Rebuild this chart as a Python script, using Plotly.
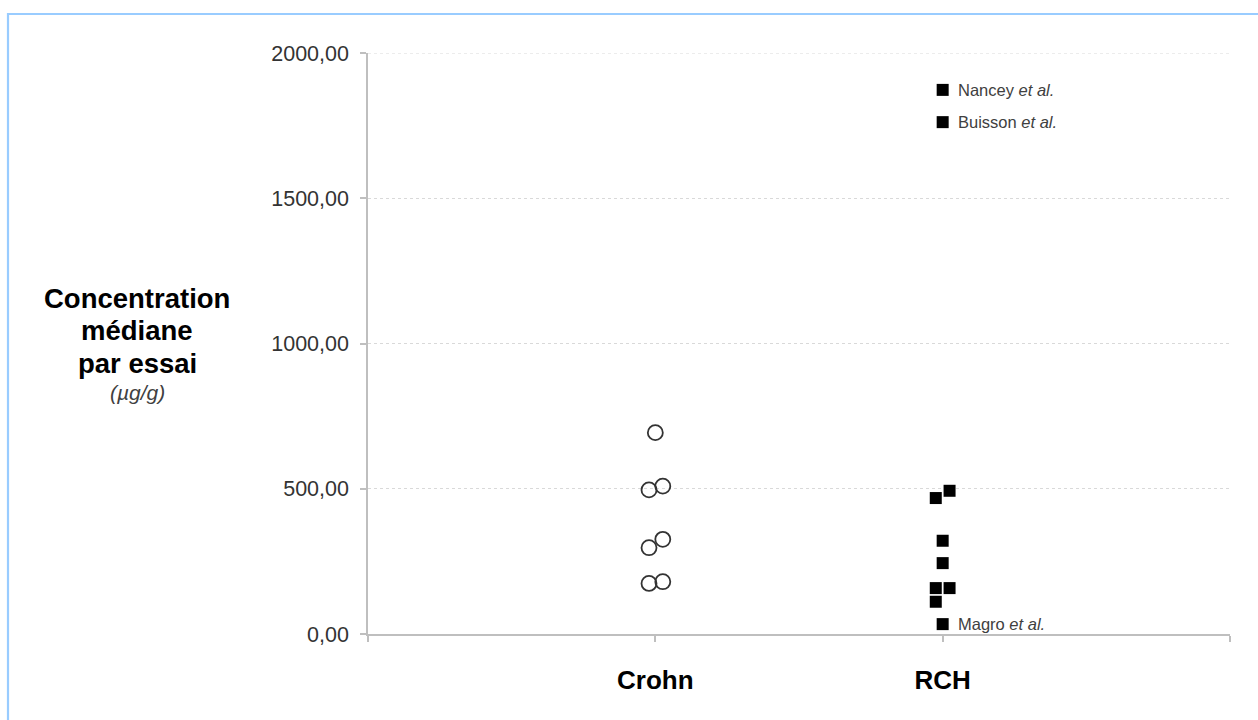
import plotly.graph_objects as go

# ---- data ----
categories = ["Crohn", "RCH"]
crohn_x = [1.0, 0.978, 1.026, 0.978, 1.026, 0.978, 1.026]
crohn_y = [693, 496, 509, 297, 326, 174, 180]
rch_x = [2.0, 2.0, 1.976, 2.024, 2.0, 2.0, 1.976, 2.024, 1.976, 2.0]
rch_y = [1873, 1762, 468, 493, 321, 244, 158, 158, 111, 34]
labelled_names = ["Nancey", "Buisson", "Magro"]
labelled_x = [2.0, 2.0, 2.0]
labelled_y = [1873, 1762, 34]
y_ticks = [0, 500, 1000, 1500, 2000]

FONT = "Arial, Liberation Sans, sans-serif"

fig = go.Figure()
fig.add_trace(go.Scatter(
    x=crohn_x, y=crohn_y, mode="markers",
    marker=dict(symbol="circle-open", size=15, color="#333333", line=dict(width=1.8, color="#333333")),
    showlegend=False, hoverinfo="skip"))
fig.add_trace(go.Scatter(
    x=rch_x, y=rch_y, mode="markers",
    marker=dict(symbol="square", size=12, color="#000000", line=dict(width=0)),
    showlegend=False, hoverinfo="skip"))

for name, xv, yv in zip(labelled_names, labelled_x, labelled_y):
    fig.add_annotation(x=xv, y=yv, xref="x", yref="y", xanchor="left", yanchor="middle",
                       xshift=13, text=f"{name} <i>et al.</i>", showarrow=False,
                       font=dict(family=FONT, size=16.5, color="#404040"))

# y-axis title block
title_lines = [("<b>Concentration</b>", 298, 27.5), ("<b>médiane</b>", 330, 27.5),
               ("<b>par essai</b>", 363, 27.5), ("<i>(µg/g)</i>", 392, 21)]
for txt, py, fs in title_lines:
    fig.add_annotation(x=(137 - 368) / 862, y=(634 - py) / 581, xref="paper", yref="paper",
                       xanchor="center", yanchor="middle", text=txt, showarrow=False,
                       font=dict(family=FONT, size=fs, color="#000000" if fs > 25 else "#404040"))

# top gridline (at the range end)
fig.add_shape(type="line", xref="paper", yref="y", x0=0, x1=1, y0=y_ticks[-1], y1=y_ticks[-1],
              line=dict(color="#D9D9D9", width=1, dash="3px,3px"), layer="below")

# outer light-blue frame (left and top visible)
fig.add_shape(type="rect", xref="paper", yref="paper",
              x0=(8 - 368) / 862, x1=1.2, y0=-0.3, y1=(634 - 14) / 581,
              line=dict(color="#99CCFF", width=2.2), fillcolor="rgba(0,0,0,0)", layer="below")

fig.update_layout(
    width=1258, height=720,
    margin=dict(l=368, r=28, t=53, b=86),
    paper_bgcolor="white", plot_bgcolor="white",
    separators=",.",
    font=dict(family=FONT, color="#404040"),
    xaxis=dict(range=[0, 3], tickvals=[0, 1, 2, 3], ticktext=["", categories[0], categories[1], ""],
               showgrid=False, zeroline=False, showline=True, linecolor="#BFBFBF", linewidth=1.5,
               ticks="outside", ticklen=6, tickcolor="#BFBFBF", tickwidth=1.5,
               tickfont=dict(family=FONT, size=26, color="#000000", weight="bold"),
               ticklabelstandoff=16),
    yaxis=dict(range=[0, 2000], tickvals=y_ticks, tickformat=".2f",
               showgrid=True, gridcolor="#D9D9D9", griddash="3px,3px", gridwidth=1,
               zeroline=False, showline=True, linecolor="#BFBFBF", linewidth=1.5,
               ticks="outside", ticklen=6, tickcolor="#BFBFBF", tickwidth=1.5,
               tickfont=dict(family=FONT, size=21.5, color="#333333"), ticklabelstandoff=7),
)

fig.write_html("out.html")
